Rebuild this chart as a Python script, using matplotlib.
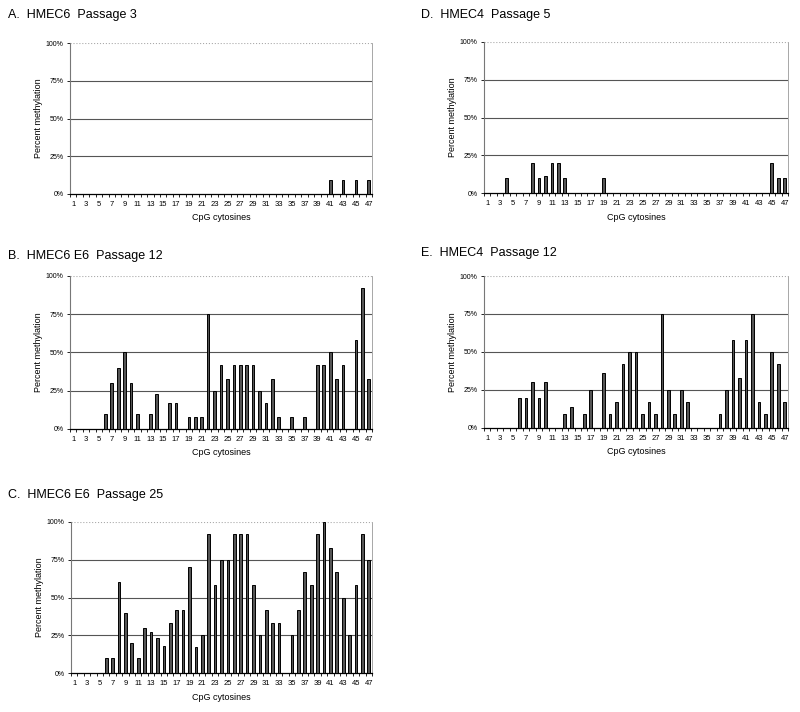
import numpy as np
import matplotlib.pyplot as plt
from matplotlib.ticker import FixedLocator

cpg = np.arange(1, 48)

# percent methylation per CpG cytosine (only non-zero listed)
vals_a = {41: 9, 43: 9, 45: 9, 47: 9}
vals_d = {4: 10, 8: 20, 9: 10, 10: 11, 11: 20, 12: 20, 13: 10, 19: 10,
          45: 20, 46: 10, 47: 10}
vals_b = {6: 10, 7: 30, 8: 40, 9: 50, 10: 30, 11: 10, 13: 10, 14: 23,
          16: 17, 17: 17, 19: 8, 20: 8, 21: 8, 22: 75, 23: 25, 24: 42,
          25: 33, 26: 42, 27: 42, 28: 42, 29: 42, 30: 25, 31: 17, 32: 33,
          33: 8, 35: 8, 37: 8, 39: 42, 40: 42, 41: 50, 42: 33, 43: 42,
          45: 58, 46: 92, 47: 33}
vals_e = {6: 20, 7: 20, 8: 30, 9: 20, 10: 30, 13: 9, 14: 14, 16: 9,
          17: 25, 19: 36, 20: 9, 21: 17, 22: 42, 23: 50, 24: 50, 25: 9,
          26: 17, 27: 9, 28: 75, 29: 25, 30: 9, 31: 25, 32: 17, 37: 9,
          38: 25, 39: 58, 40: 33, 41: 58, 42: 75, 43: 17, 44: 9, 45: 50,
          46: 42, 47: 17}
vals_c = {6: 10, 7: 10, 8: 60, 9: 40, 10: 20, 11: 10, 12: 30, 13: 27,
          14: 23, 15: 18, 16: 33, 17: 42, 18: 42, 19: 70, 20: 17, 21: 25,
          22: 92, 23: 58, 24: 75, 25: 75, 26: 92, 27: 92, 28: 92, 29: 58,
          30: 25, 31: 42, 32: 33, 33: 33, 35: 25, 36: 42, 37: 67, 38: 58,
          39: 92, 40: 100, 41: 83, 42: 67, 43: 50, 44: 25, 45: 58, 46: 92,
          47: 75}

W, H = 800, 712
fig = plt.figure(figsize=(W / 100, H / 100), dpi=100)
plt.rcParams['font.family'] = ['Liberation Sans', 'DejaVu Sans']


def panel(box, vals, title, title_xy):
    l, t, r, b = box
    ax = fig.add_axes([l / W, 1 - b / H, (r - l) / W, (b - t) / H])
    y = np.array([vals.get(i, 0) for i in cpg])
    ax.bar(cpg, y, width=0.42, color='#555555', edgecolor='black', lw=0.7, zorder=3)
    ax.set_xlim(0.5, 47.5)
    ax.set_ylim(0, 100)
    for g in (25, 50, 75):
        ax.axhline(g, color='#555555', lw=0.8, zorder=1)
    ax.axhline(100, color='#aaaaaa', lw=0.8, ls=':', zorder=1)
    ax.set_yticks([0, 25, 50, 75, 100])
    ax.set_yticklabels(['0%', '25%', '50%', '75%', '100%'], fontsize=5)
    ax.set_xticks(cpg[::2])
    ax.set_xticklabels([str(i) for i in cpg[::2]], fontsize=5.5)
    ax.xaxis.set_minor_locator(FixedLocator(np.arange(0.5, 48, 1)))
    ax.tick_params(axis='x', which='major', length=0, pad=5)
    ax.tick_params(axis='x', which='minor', length=2.5, width=0.6, direction='out')
    ax.tick_params(axis='y', length=2.5, width=0.6, pad=2)
    ax.spines['top'].set_visible(False)
    ax.spines['right'].set_color('#999999')
    ax.spines['right'].set_linewidth(0.6)
    ax.spines['left'].set_color('#777777')
    ax.spines['left'].set_linewidth(0.8)
    ax.spines['bottom'].set_color('black')
    ax.spines['bottom'].set_linewidth(0.9)
    ax.set_ylabel('Percent methylation', fontsize=6.5, labelpad=2)
    ax.set_xlabel('CpG cytosines', fontsize=6.5, labelpad=4)
    fig.text(title_xy[0] / W, 1 - title_xy[1] / H, title, fontsize=9,
             va='center', ha='left')
    return ax


panel((70, 43, 372, 194), vals_a, 'A.  HMEC6  Passage 3', (8, 15))
panel((484, 42, 788, 193), vals_d, 'D.  HMEC4  Passage 5', (421, 15))
panel((70, 276, 372, 429), vals_b, 'B.  HMEC6 E6  Passage 12', (8, 256))
panel((484, 276, 788, 428), vals_e, 'E.  HMEC4  Passage 12', (421, 253))
panel((71, 522, 372, 673), vals_c, 'C.  HMEC6 E6  Passage 25', (8, 495))

fig.savefig('out.png', dpi=100)
